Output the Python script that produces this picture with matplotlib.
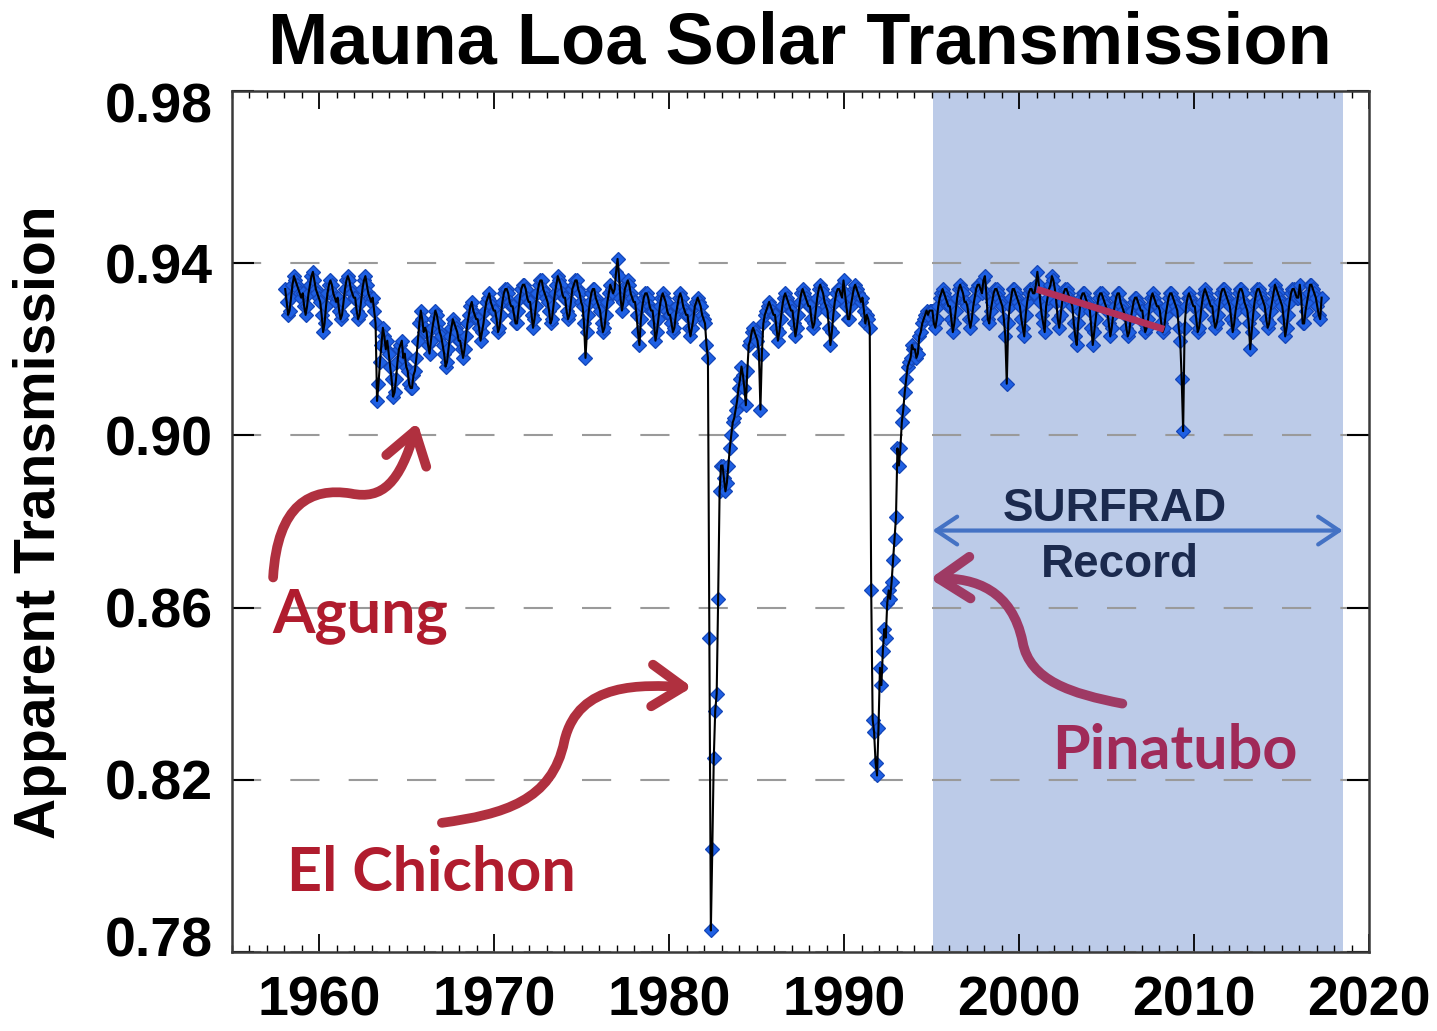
import numpy as np
import matplotlib.pyplot as plt
import matplotlib.transforms as mtransforms
from matplotlib.path import Path
from matplotlib.patches import FancyArrowPatch

plt.rcParams['font.family'] = ['Liberation Sans', 'DejaVu Sans']

# monthly apparent transmission (x1000), starting Jan 1958
trans_1958_1967 = [
    934, 931, 928, 929, 932, 935, 937, 936, 935, 934, 933, 932,
    933, 930, 928, 930, 933, 935, 937, 938, 936, 934, 933, 932,
    931, 928, 924, 926, 930, 933, 935, 936, 935, 933, 932, 931,
    932, 929, 927, 928, 931, 934, 936, 937, 936, 934, 933, 932,
    932, 929, 927, 928, 931, 934, 936, 937, 935, 933, 932, 931,
    932, 929, 926, 908, 912, 917, 921, 925, 923, 920, 922, 919,
    916, 913, 909, 910, 913, 917, 920, 921, 922, 918, 919, 916,
    915, 912, 911, 911, 914, 915, 918, 922, 926, 929, 927, 924,
    925, 924, 921, 919, 922, 925, 927, 929, 928, 926, 924, 923,
    921, 919, 916, 917, 920, 923, 925, 927, 926, 925, 924, 922,
]
trans_1968_1977 = [
    922, 920, 918, 920, 923, 926, 928, 930, 931, 929, 928, 927,
    927, 925, 922, 924, 926, 929, 931, 932, 933, 931, 930, 929,
    929, 927, 924, 925, 928, 931, 933, 934, 934, 933, 931, 930,
    930, 928, 926, 926, 929, 932, 934, 935, 935, 934, 932, 931,
    931, 928, 925, 927, 930, 933, 935, 936, 936, 934, 933, 932,
    931, 929, 926, 927, 930, 933, 935, 937, 936, 935, 933, 932,
    932, 929, 927, 928, 931, 934, 935, 936, 936, 934, 933, 931,
    930, 926, 918, 924, 928, 931, 933, 934, 934, 932, 931, 930,
    929, 926, 924, 925, 928, 931, 933, 935, 934, 933, 934, 938,
    941, 937, 932, 929, 931, 934, 935, 936, 935, 933, 932, 931,
]
trans_1978_1987 = [
    931, 928, 924, 921, 927, 930, 932, 933, 933, 932, 930, 929,
    929, 926, 922, 924, 927, 930, 932, 933, 932, 931, 929, 928,
    928, 926, 924, 925, 928, 930, 932, 933, 932, 930, 929, 928,
    928, 925, 923, 925, 927, 930, 931, 932, 931, 930, 928, 927,
    926, 921, 918, 853, 785, 804, 825, 836, 840, 862, 887, 893,
    893, 890, 887, 889, 893, 897, 900, 903, 904, 906, 908, 911,
    913, 916, 914, 911, 907, 915, 921, 922, 924, 925, 924, 923,
    922, 919, 906, 919, 926, 928, 929, 930, 931, 930, 929, 928,
    928, 925, 922, 924, 927, 930, 932, 933, 932, 931, 930, 929,
    929, 926, 923, 925, 928, 931, 933, 934, 933, 932, 931, 930,
]
trans_1988_1997 = [
    930, 927, 925, 926, 929, 932, 934, 935, 934, 933, 931, 930,
    929, 925, 921, 924, 928, 931, 933, 934, 934, 933, 932, 936,
    933, 930, 927, 927, 930, 932, 934, 935, 934, 933, 932, 931,
    932, 929, 926, 928, 927, 925, 864, 834, 831, 824, 821, 832,
    846, 842, 850, 855, 853, 861, 864, 862, 866, 871, 876, 881,
    897, 893, 897, 903, 906, 910, 913, 916, 917, 918, 921, 920,
    920, 918, 919, 923, 924, 926, 927, 928, 929, 928, 929, 929,
    929, 926, 925, 927, 930, 932, 933, 934, 933, 932, 931, 930,
    930, 927, 924, 926, 929, 932, 934, 935, 934, 933, 931, 931,
    930, 927, 925, 927, 930, 932, 934, 935, 935, 934, 933, 936,
]
trans_1998_2007 = [
    937, 933, 927, 926, 929, 931, 933, 934, 934, 933, 932, 931,
    930, 927, 923, 912, 926, 930, 932, 934, 934, 933, 932, 931,
    930, 927, 925, 923, 928, 931, 933, 934, 934, 933, 933, 935,
    938, 935, 931, 928, 926, 924, 930, 932, 934, 935, 937, 936,
    934, 931, 927, 925, 928, 931, 933, 934, 934, 933, 932, 931,
    930, 926, 923, 921, 926, 929, 932, 933, 933, 932, 931, 930,
    929, 925, 921, 924, 927, 930, 932, 933, 933, 932, 931, 930,
    929, 926, 923, 925, 928, 930, 932, 933, 933, 931, 930, 929,
    928, 925, 923, 924, 927, 929, 931, 932, 932, 931, 930, 929,
    929, 926, 924, 925, 927, 930, 932, 933, 932, 931, 930, 930,
]
trans_2008_2017 = [
    929, 926, 924, 925, 928, 930, 932, 933, 933, 932, 931, 930,
    929, 925, 922, 913, 901, 925, 930, 932, 933, 932, 931, 930,
    930, 927, 924, 925, 928, 931, 933, 934, 933, 932, 931, 930,
    930, 927, 925, 926, 928, 931, 933, 934, 934, 933, 932, 931,
    930, 927, 924, 926, 929, 931, 933, 934, 934, 933, 931, 930,
    929, 926, 920, 924, 928, 931, 933, 934, 934, 933, 932, 931,
    930, 927, 925, 926, 929, 931, 933, 935, 934, 933, 932, 931,
    930, 927, 923, 925, 928, 931, 933, 934, 934, 933, 932, 932,
    935, 932, 926, 926, 929, 931, 933, 935, 935, 934, 933, 932,
    930, 928, 927, 932,
]
start_year = 1958

# trend segment drawn in red over the SURFRAD period
trend_years = [2001.2, 2008.1]
trend_vals = [0.9337, 0.9249]

surfrad_span = [1995.05, 2018.5]

y_ticks = [0.78, 0.82, 0.86, 0.90, 0.94, 0.98]
y_labels = ['0.78', '0.82', '0.86', '0.90', '0.94', '0.98']
x_ticks = [1960, 1970, 1980, 1990, 2000, 2010, 2020]

trans = np.array(trans_1958_1967 + trans_1968_1977 + trans_1978_1987 +
                 trans_1988_1997 + trans_1998_2007 + trans_2008_2017) / 1000.0
years = start_year + (np.arange(len(trans)) + 0.5) / 12.0

fig = plt.figure(figsize=(14.37, 10.31), dpi=100)
ax = fig.add_axes([232 / 1437, 79 / 1031, 1137 / 1437, 861 / 1031])

ax.axvspan(surfrad_span[0], surfrad_span[1], color='#bccbe8', lw=0, zorder=0)

ax.plot(years, trans, ls='none', marker='D', ms=7.5, mfc='#1f60e3', mec='#1446b8',
        mew=0.9, zorder=3)
ax.plot(years, trans, color='black', lw=1.5, zorder=4)
ax.plot(trend_years, trend_vals, color='#b3305a', lw=5, zorder=5)

ax.set_xlim(1955, 2020)
ax.set_ylim(0.78, 0.98)
ax.set_xticks(x_ticks)
ax.set_xticks(range(1955, 2021), minor=True)
ax.set_yticks(y_ticks)
ax.set_yticklabels(y_labels)
ax.yaxis.grid(True, ls=(0, (14, 14)), color='#9a9a9a', lw=1.5)
ax.set_axisbelow(True)

ax.tick_params(axis='both', which='both', direction='in', top=True, right=True)
ax.tick_params(axis='x', which='major', length=13, width=1.3, pad=17)
ax.tick_params(axis='x', which='minor', length=5, width=1)
ax.tick_params(axis='y', which='major', length=16, width=1.5, pad=14)
for lab in ax.get_xticklabels() + ax.get_yticklabels():
    lab.set_fontsize(40)
    lab.set_fontweight('bold')
for sp in ax.spines.values():
    sp.set_color('#3a3a3a')
    sp.set_linewidth(1.8)

# end labels sit a little inside the frame, as in the original
ylabs = ax.get_yticklabels()
ylabs[0].set_transform(ylabs[0].get_transform() +
                       mtransforms.ScaledTranslation(0, 11 / 72, fig.dpi_scale_trans))
ylabs[-1].set_transform(ylabs[-1].get_transform() +
                        mtransforms.ScaledTranslation(0, -8 / 72, fig.dpi_scale_trans))

fig.text(800 / 1437, 1 - 63 / 1031, 'Mauna Loa Solar Transmission', ha='center',
         va='baseline', fontsize=52, fontweight='bold')
fig.text(40 / 1437, 0.4937, 'Apparent Transmission', rotation=90, ha='center',
         va='center', fontsize=41, fontweight='bold')

# SURFRAD record marker
ax.text(2005.46, 0.8802, 'SURFRAD', ha='center', va='baseline', fontsize=33,
        fontweight='bold', color='#1b2a4e', zorder=6)
ax.text(2005.74, 0.8670, 'Record', ha='center', va='baseline', fontsize=33,
        fontweight='bold', color='#1b2a4e', zorder=6)
ax.annotate('', xy=(surfrad_span[0], 0.8779), xytext=(surfrad_span[1], 0.8779),
            arrowprops=dict(arrowstyle='<->, head_length=0.6, head_width=0.4',
                            color='#4472c4', lw=3, shrinkA=0, shrinkB=0,
                            mutation_scale=25), zorder=6)


def curved_arrow(pts, color):
    codes = [Path.MOVETO] + [Path.CURVE4] * 6
    arr = FancyArrowPatch(path=Path(pts, codes),
                          arrowstyle='->, head_length=0.45, head_width=0.3',
                          mutation_scale=50, lw=7, color=color,
                          transform=ax.transData, zorder=6, joinstyle='round')
    ax.add_patch(arr)


red = '#b0303f'
curved_arrow([(1957.35, 0.867), (1957.6, 0.884), (1959.5, 0.888), (1961.8, 0.8865),
              (1963.6, 0.885), (1964.6, 0.889), (1965.6, 0.903)], red)
curved_arrow([(1967.0, 0.810), (1970.5, 0.812), (1973.3, 0.815), (1974.0, 0.829),
              (1974.8, 0.843), (1978.5, 0.842), (1981.3, 0.8415)], red)
curved_arrow([(2005.9, 0.8377), (2003.0, 0.840), (2000.6, 0.843), (2000.2, 0.852),
              (1999.6, 0.864), (1997.5, 0.867), (1994.9, 0.8667)], '#9e3a64')

lab_font = ['Lato', 'DejaVu Sans']
ax.text(1957.29, 0.8542, 'Agung', ha='left', va='baseline', fontsize=44,
        fontweight='bold', color='#b01c2e', family=lab_font, zorder=6)
ax.text(1958.14, 0.7942, 'El Chichon', ha='left', va='baseline', fontsize=44,
        fontweight='bold', color='#b01c2e', family=lab_font, zorder=6)
ax.text(2001.91, 0.8226, 'Pinatubo', ha='left', va='baseline', fontsize=44,
        fontweight='bold', color='#a02a58', family=lab_font, zorder=6)

fig.savefig('out.png', dpi=100)
